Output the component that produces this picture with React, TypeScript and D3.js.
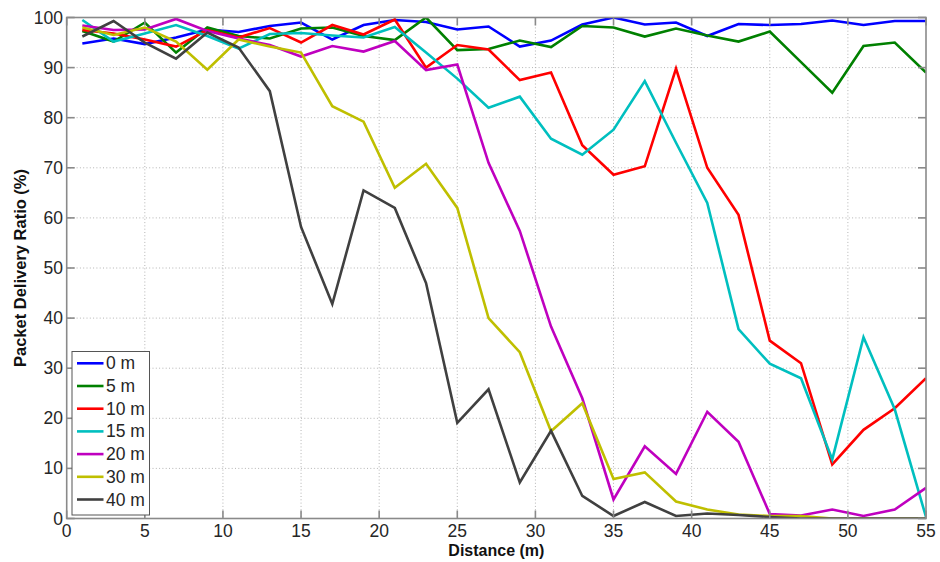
import React from "react";
import * as d3 from "d3";

const distances = [1, 3, 5, 7, 9, 11, 13, 15, 17, 19, 21, 23, 25, 27, 29, 31, 33, 35, 37, 39, 41, 43, 45, 47, 49, 51, 53, 55];

const pdr0 = [94.8, 95.8, 94.7, 96, 97.6, 97.1, 98.3, 99, 95.6, 98.5, 99.5, 99.1, 97.6, 98.2, 94.2, 95.4, 98.6, 100, 98.6, 99, 96.3, 98.7, 98.5, 98.7, 99.4, 98.5, 99.3, 99.3];
const pdr5 = [97.3, 95.2, 99, 93, 98, 96.3, 95.8, 97.8, 98, 96.3, 95.5, 100, 93.5, 93.7, 95.4, 94.1, 98.3, 98, 96.2, 97.8, 96.4, 95.2, 97.2, 91.1, 85, 94.3, 95, 89];
const pdr10 = [97.5, 96.8, 95.6, 94.2, 97.5, 96, 97.9, 95, 98.5, 96.6, 99.6, 90, 94.5, 93.6, 87.5, 89, 74.5, 68.6, 70.3, 89.8, 70, 60.6, 35.5, 31, 10.8, 17.7, 22, 28];
const pdr15 = [99.5, 95.2, 96.8, 98.5, 96.3, 93.8, 96.7, 96.9, 96.4, 96, 98.1, 93, 87.8, 82, 84.2, 75.8, 72.6, 77.6, 87.3, 75, 63, 37.8, 30.9, 28, 11.8, 36.2, 21.8, 0.3];
const pdr20 = [98.4, 97.5, 97.6, 99.7, 97.3, 95.8, 94.5, 92.2, 94.3, 93.2, 95.3, 89.5, 90.6, 71, 57.4, 38.3, 24, 3.8, 14.4, 8.9, 21.3, 15.3, 0.9, 0.6, 1.8, 0.5, 1.8, 6.1];
const pdr30 = [98, 96.5, 98, 95.2, 89.6, 95.6, 94.2, 93, 82.3, 79.2, 66, 70.8, 62, 40, 33.2, 17.4, 23, 7.9, 9.2, 3.4, 1.8, 0.8, 0.5, 0.5, 0, 0, 0, 0];
const pdr40 = [96.2, 99.3, 95, 91.8, 97, 94, 85.3, 58.2, 42.8, 65.5, 62, 47, 19.1, 25.8, 7.2, 17.5, 4.5, 0.5, 3.3, 0.5, 1, 0.7, 0.3, 0, 0, 0, 0, 0];

const seriesNames = ["0 m", "5 m", "10 m", "15 m", "20 m", "30 m", "40 m"];
const seriesValues = [pdr0, pdr5, pdr10, pdr15, pdr20, pdr30, pdr40];
const seriesColors = ["#0000ff", "#008000", "#ff0000", "#00bfbf", "#bf00bf", "#bfbf00", "#404040"];

const xTicks = [0, 5, 10, 15, 20, 25, 30, 35, 40, 45, 50, 55];
const yTicks = [0, 10, 20, 30, 40, 50, 60, 70, 80, 90, 100];

const W = 940;
const H = 562;
const left = 66.7;
const right = 926;
const top = 17.5;
const bottom = 518.5;

export default function App() {
  const x = d3.scaleLinear().domain([0, 55]).range([left, right]);
  const y = d3.scaleLinear().domain([0, 100]).range([bottom, top]);
  const line = d3
    .line<number>()
    .x((_, i) => x(distances[i]))
    .y((v) => y(v));

  const font = "'Liberation Sans', Arial, sans-serif";
  const tickLen = 8;
  const legX = 72;
  const legY = 351.5;
  const legW = 77.5;
  const legH = 163.5;
  const rowH = 22.7;

  return (
    <svg
      width={W}
      height={H}
      style={{ position: "absolute", left: 0, top: 0, background: "#fff" }}
      fontFamily={font}
    >
      <defs>
        <clipPath id="plotClip">
          <rect x={left} y={top} width={right - left} height={bottom - top} />
        </clipPath>
      </defs>
      <rect x={0} y={0} width={W} height={H} fill="#fff" />

      {/* dotted grid */}
      <g stroke="#b4b4b4" strokeWidth={1} strokeDasharray="1,2.3">
        {xTicks.slice(1, -1).map((t) => (
          <line key={"gx" + t} x1={x(t)} x2={x(t)} y1={top} y2={bottom} />
        ))}
        {yTicks.slice(1, -1).map((t) => (
          <line key={"gy" + t} x1={left} x2={right} y1={y(t)} y2={y(t)} />
        ))}
      </g>

      {/* series */}
      <g clipPath="url(#plotClip)" fill="none" strokeWidth={2.6} strokeLinejoin="miter">
        {seriesValues.map((vals, k) => (
          <path key={seriesNames[k]} d={line(vals) || ""} stroke={seriesColors[k]} />
        ))}
      </g>

      {/* frame and inward ticks */}
      <g stroke="#8a8a8a" strokeWidth={1.6}>
        <rect x={left} y={top} width={right - left} height={bottom - top} fill="none" />
        {xTicks.map((t) => (
          <g key={"tx" + t}>
            <line x1={x(t)} x2={x(t)} y1={bottom} y2={bottom - tickLen} />
            <line x1={x(t)} x2={x(t)} y1={top} y2={top + tickLen} />
          </g>
        ))}
        {yTicks.map((t) => (
          <g key={"ty" + t}>
            <line x1={left} x2={left + tickLen} y1={y(t)} y2={y(t)} />
            <line x1={right} x2={right - tickLen} y1={y(t)} y2={y(t)} />
          </g>
        ))}
      </g>

      {/* tick labels */}
      <g fill="#262626" fontSize={17.5}>
        {xTicks.map((t) => (
          <text key={"lx" + t} x={x(t)} y={537} textAnchor="middle">
            {t}
          </text>
        ))}
        {yTicks.map((t) => (
          <text key={"ly" + t} x={63} y={y(t)} textAnchor="end" dominantBaseline="central">
            {t}
          </text>
        ))}
      </g>

      {/* axis titles */}
      <text x={(left + right) / 2} y={556} textAnchor="middle" fontSize={16} fontWeight="bold" fill="#111">
        Distance (m)
      </text>
      <text
        transform={`translate(26, ${(top + bottom) / 2}) rotate(-90)`}
        textAnchor="middle"
        fontSize={16.5}
        fontWeight="bold"
        fill="#111"
      >
        Packet Delivery Ratio (%)
      </text>

      {/* legend */}
      <g>
        <rect x={legX} y={legY} width={legW} height={legH} fill="#fff" stroke="#555" strokeWidth={1} />
        {seriesNames.map((name, k) => {
          const cy = legY + 11.8 + k * rowH;
          return (
            <g key={"leg" + name}>
              <line x1={77} x2={103.5} y1={cy} y2={cy} stroke={seriesColors[k]} strokeWidth={2.6} />
              <text x={106} y={cy} dominantBaseline="central" fontSize={17.5} fill="#262626">
                {name}
              </text>
            </g>
          );
        })}
      </g>
    </svg>
  );
}
